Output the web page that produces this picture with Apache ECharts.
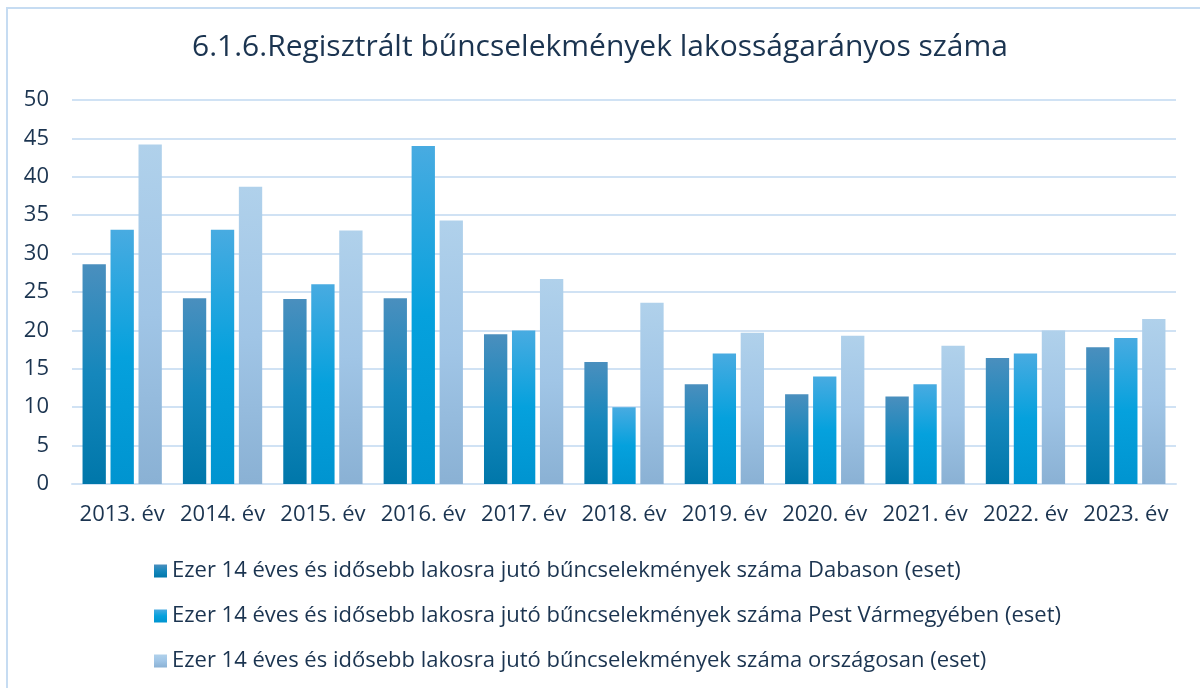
<!DOCTYPE html>
<html>
<head>
<meta charset="utf-8">
<script src="https://cdn.jsdelivr.net/npm/echarts@6/dist/echarts.min.js"></script>
<style>
html, body { margin: 0; padding: 0; background: #fff; }
#chart { width: 1200px; height: 688px; }
</style>
</head>
<body>
<div id="chart"></div>
<script>
// évek
const years = ['2013. év', '2014. év', '2015. év', '2016. év', '2017. év', '2018. év',
  '2019. év', '2020. év', '2021. év', '2022. év', '2023. év'];

// ezer 14 éves és idősebb lakosra jutó bűncselekmények
const dabas = [28.6, 24.2, 24.1, 24.2, 19.5, 15.9, 13.0, 11.7, 11.4, 16.4, 17.8];
const pest = [33.1, 33.1, 26.0, 44.0, 20.0, 10.0, 17.0, 14.0, 13.0, 17.0, 19.0];
const orszagos = [44.2, 38.7, 33.0, 34.3, 26.7, 23.6, 19.7, 19.3, 18.0, 20.0, 21.5];

const names = [
  'Ezer 14 éves és idősebb lakosra jutó bűncselekmények száma Dabason (eset)',
  'Ezer 14 éves és idősebb lakosra jutó bűncselekmények száma Pest Vármegyében (eset)',
  'Ezer 14 éves és idősebb lakosra jutó bűncselekmények száma országosan (eset)'
];

const yTicks = [0, 5, 10, 15, 20, 25, 30, 35, 40, 45, 50];

const textColor = '#1b3450';
const font = 'Open Sans';

// függőleges színátmenet (felül világosabb)
const grad = (top, mid, bottom) => new echarts.graphic.LinearGradient(0, 0, 0, 1, [
  { offset: 0, color: top },
  { offset: 0.5, color: mid },
  { offset: 1, color: bottom }
]);

const myChart = echarts.init(document.getElementById('chart'));

const bar = (name, data, color) => ({
  name: name,
  type: 'bar',
  data: data,
  barGap: '20%',
  barCategoryGap: '21%',
  itemStyle: { color: color },
  emphasis: { disabled: true }
});

const option = {
  animation: false,
  textStyle: { fontFamily: font },
  title: {
    text: '6.1.6.Regisztrált bűncselekmények lakosságarányos száma',
    left: 'center',
    top: 27,
    textStyle: { fontFamily: font, fontSize: 30, fontWeight: 'normal', color: textColor }
  },
  // keret bal és felső oldalon
  graphic: [{
    type: 'rect',
    shape: { x: 7, y: 8, width: 1300, height: 800 },
    style: { fill: 'none', stroke: '#c6dcf2', lineWidth: 2 },
    silent: true
  }],
  grid: { left: 72, right: 24, top: 100, bottom: 204 },
  legend: {
    orient: 'vertical',
    left: 149,
    top: 554,
    itemWidth: 13,
    itemHeight: 13,
    itemGap: 21,
    icon: 'rect',
    textStyle: { fontFamily: font, fontSize: 22, color: textColor, lineHeight: 24, padding: [0, 0, 0, 0] },
    data: names
  },
  xAxis: {
    type: 'category',
    data: years,
    axisTick: { show: false },
    axisLine: { lineStyle: { color: '#d0e2f4', width: 2 } },
    axisLabel: { fontFamily: font, fontSize: 22, color: textColor, margin: 20, interval: 0 }
  },
  yAxis: {
    type: 'value',
    min: yTicks[0],
    max: yTicks[yTicks.length - 1],
    interval: 5,
    axisLine: { show: false },
    axisTick: { show: false },
    splitLine: { lineStyle: { color: '#d0e2f4', width: 2 } },
    axisLabel: { fontFamily: font, fontSize: 22, color: textColor, margin: 23 }
  },
  series: [
    bar(names[0], dabas, grad('#4a8fbe', '#1587bc', '#0077aa')),
    bar(names[1], pest, grad('#48abe1', '#05a1dd', '#0094d0')),
    bar(names[2], orszagos, grad('#b0d1eb', '#a0c5e6', '#8ab1d4'))
  ]
};

myChart.setOption(option);
</script>
</body>
</html>
